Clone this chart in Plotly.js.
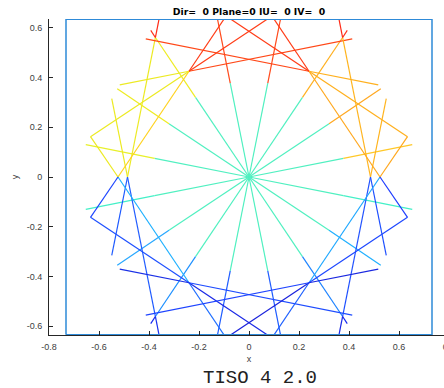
<!DOCTYPE html>
<html><head><meta charset="utf-8">
<script src="https://cdn.plot.ly/plotly-3.0.1.min.js"></script>
<style>html,body{margin:0;padding:0;overflow:hidden;background:#fff}#chart{width:470px;height:388px}</style>
</head><body><div id="chart"></div>
<script>
// ---- data ----
// 16 spokes from the centre, listed by direction (degrees)
const spokeAngle = [11.25,33.75,56.25,78.75,101.25,123.75,146.25,168.75,191.25,213.75,236.25,258.75,281.25,303.75,326.25,348.75];
// point where the spoke colour changes
const spokeBreakX = [0.3776,0.3201,0.2139,0.0751,-0.0751,-0.2139,-0.3201,-0.3776,-0.3776,-0.3201,-0.2139,-0.0751,0.0751,0.2139,0.3201,0.3776];
const spokeBreakY = [0.0751,0.2139,0.3201,0.3776,0.3776,0.3201,0.2139,0.0751,-0.0751,-0.2139,-0.3201,-0.3776,-0.3776,-0.3201,-0.2139,-0.0751];
// crossing near the tip (only some spokes)
const spokeKneeX = [null,null,0.3745,null,null,-0.3745,null,null,null,null,-0.3745,null,null,0.3745,null,null];
const spokeKneeY = [null,null,0.5606,null,null,0.5606,null,null,null,null,-0.5606,null,null,-0.5606,null,null];
// far end of each spoke
const spokeEndX = [0.653,0.527,0.393,0.146,-0.146,-0.393,-0.527,-0.653,-0.653,-0.527,-0.393,-0.146,0.146,0.393,0.527,0.653];
const spokeEndY = [0.130,0.355,0.589,0.736,0.736,0.589,0.355,0.130,-0.130,-0.355,-0.589,-0.736,-0.736,-0.589,-0.355,-0.130];

// reflected rays: 6 per quadrant (upper-left, upper-right, lower-left, lower-right)
const rayStartX = [-0.486,-0.486,-0.524,-0.634,-0.634,-0.517,  0.486,0.486,0.524,0.634,0.634,0.517,
                   -0.486,-0.486,-0.524,-0.634,-0.634,-0.517,  0.486,0.486,0.524,0.634,0.634,0.517];
const rayStartY = [0,0,0,0.162,0.162,0.370,  0,0,0,0.162,0.162,0.370,
                   0,0,0,-0.162,-0.162,-0.370,  0,0,0,-0.162,-0.162,-0.370];
const rayMidX = [-0.3745,null,-0.240,null,-0.240,-0.240,  0.3745,null,0.240,null,0.240,0.240,
                 -0.3745,null,-0.240,null,-0.240,-0.240,  0.3745,null,0.240,null,0.240,0.240];
const rayMidY = [0.5606,null,0.425,null,0.425,0.425,  0.5606,null,0.425,null,0.425,0.425,
                 -0.5606,null,-0.425,null,-0.425,-0.425,  -0.5606,null,-0.425,null,-0.425,-0.425];
const rayEndX = [-0.343,-0.549,-0.043,-0.524,0.201,0.413,  0.343,0.549,0.043,0.524,-0.201,-0.413,
                 -0.343,-0.549,-0.043,-0.524,0.201,0.413,  0.343,0.549,0.043,0.524,-0.201,-0.413];
const rayEndY = [0.72,0.315,0.72,0,0.72,0.555,  0.72,0.315,0.72,0,0.72,0.555,
                 -0.72,-0.315,-0.72,0,-0.72,-0.555,  -0.72,-0.315,-0.72,0,-0.72,-0.555];

// domain frame
const frameX = [-0.732,0.732,0.732,-0.732,-0.732];
const frameY = [-0.634,-0.634,0.634,0.634,-0.634];

const xTicks = [-0.8,-0.6,-0.4,-0.2,0,0.2,0.4,0.6,0.8];
const xTickText = ['-0.8','-0.6','-0.4','-0.2','0','0.2','0.4','0.6','0.8'];
const yTicks = [-0.6,-0.4,-0.2,0,0.2,0.4,0.6];
const yTickText = ['-0.6','-0.4','-0.2','0','0.2','0.4','0.6'];

// ---- styles ----
const spokeInnerColor = '#50f0c0';
const spokeOuterColor = ['#ffc828','#ffa820','#ffb020','#ff4a1c','#ff4a1c','#eeec22','#eeec22','#e8f02a',
                         '#44f0c8','#28a8ff','#1e90ff','#1e5cff','#1e5cff','#1e84ff','#20b0ff','#44f0c8'];
const spokeTipColor = [null,null,'#ff3018',null,null,'#ff3018',null,null,null,null,'#1428f0',null,null,'#1428f0',null,null];
const rayLowColor = ['#ecea22','#ecea22','#ffd21e','#ecea22','#ecea22','#ecea22',
                     '#ffb41e','#ffb41e','#ffa81e','#ffa81e','#ffb01e','#ffb01e',
                     '#1e5aff','#1e5aff','#1eb0ff','#1e46ff','#1e50ff','#1a30e6',
                     '#1e50ff','#1e50ff','#1ea8ff','#1e3cff','#1e48ff','#1a28e0'];
const rayHighColor = ['#ff2a16',null,'#ff3c16',null,'#ff3c16','#ff4818',
                      '#ff2a16',null,'#ff3c16',null,'#ff3c16','#ff4818',
                      '#1a30f0',null,'#1e6eff',null,'#1a28e6','#1e4cff',
                      '#1a28e6',null,'#1e60ff',null,'#1a22dc','#1e44ff'];

const LW = 1.2;
const traces = [];
function seg(xs, ys, color){
  traces.push({type:'scatter', mode:'lines', x:xs, y:ys, line:{color:color, width:LW},
               hoverinfo:'skip', showlegend:false});
}
for (let i = 0; i < spokeAngle.length; i++){
  seg([0, spokeBreakX[i]], [0, spokeBreakY[i]], spokeInnerColor);
  if (spokeKneeX[i] !== null){
    seg([spokeBreakX[i], spokeKneeX[i]], [spokeBreakY[i], spokeKneeY[i]], spokeOuterColor[i]);
    seg([spokeKneeX[i], spokeEndX[i]], [spokeKneeY[i], spokeEndY[i]], spokeTipColor[i]);
  } else {
    seg([spokeBreakX[i], spokeEndX[i]], [spokeBreakY[i], spokeEndY[i]], spokeOuterColor[i]);
  }
}
for (let i = 0; i < rayStartX.length; i++){
  if (rayMidX[i] !== null){
    seg([rayStartX[i], rayMidX[i]], [rayStartY[i], rayMidY[i]], rayLowColor[i]);
    seg([rayMidX[i], rayEndX[i]], [rayMidY[i], rayEndY[i]], rayHighColor[i]);
  } else {
    seg([rayStartX[i], rayEndX[i]], [rayStartY[i], rayEndY[i]], rayLowColor[i]);
  }
}
traces.push({type:'scatter', mode:'lines', x:frameX, y:frameY, line:{color:'#2e8ad8', width:1.5},
             hoverinfo:'skip', showlegend:false});

const axisFont = {family:'Liberation Sans, Arial, sans-serif', size:9, color:'#404040'};
const layout = {
  width:470, height:388,
  margin:{l:49, r:21, t:19, b:53},
  paper_bgcolor:'#fff', plot_bgcolor:'#fff',
  showlegend:false,
  title:{text:'Dir=\u00a0\u00a00 Plane=0 IU=\u00a0\u00a00 IV=\u00a0\u00a00',
         font:{family:'DejaVu Sans, Liberation Sans, sans-serif', size:9.3, color:'#000', weight:'bold'},
         x:0.5, xref:'paper', xanchor:'center', y:1-12/388, yref:'container', yanchor:'middle'},
  xaxis:{range:[-0.8,0.8], tickvals:xTicks, ticktext:xTickText, ticks:'inside', ticklen:4,
         tickcolor:'#262626', showline:true, linecolor:'#262626', linewidth:1, mirror:false,
         showgrid:false, zeroline:false, tickfont:axisFont, ticklabelstandoff:3, automargin:false,
         title:{text:'x', font:axisFont, standoff:4}},
  yaxis:{range:[-0.635,0.635], tickvals:yTicks, ticktext:yTickText, ticks:'inside', ticklen:4,
         tickcolor:'#262626', showline:true, linecolor:'#262626', linewidth:1, mirror:false,
         showgrid:false, zeroline:false, tickfont:axisFont, ticklabelstandoff:4, automargin:false,
         title:{text:'y', font:axisFont, standoff:6}},
  annotations:[{text:'TISO 4 2.0', xref:'paper', yref:'paper', x:0.527, y:-0.1345,
                xanchor:'center', yanchor:'middle', showarrow:false, borderpad:0,
                font:{family:'Liberation Mono, Courier New, monospace', size:19, color:'#222'}}]
};
Plotly.newPlot('chart', traces, layout, {displayModeBar:false, staticPlot:true});
</script></body></html>
